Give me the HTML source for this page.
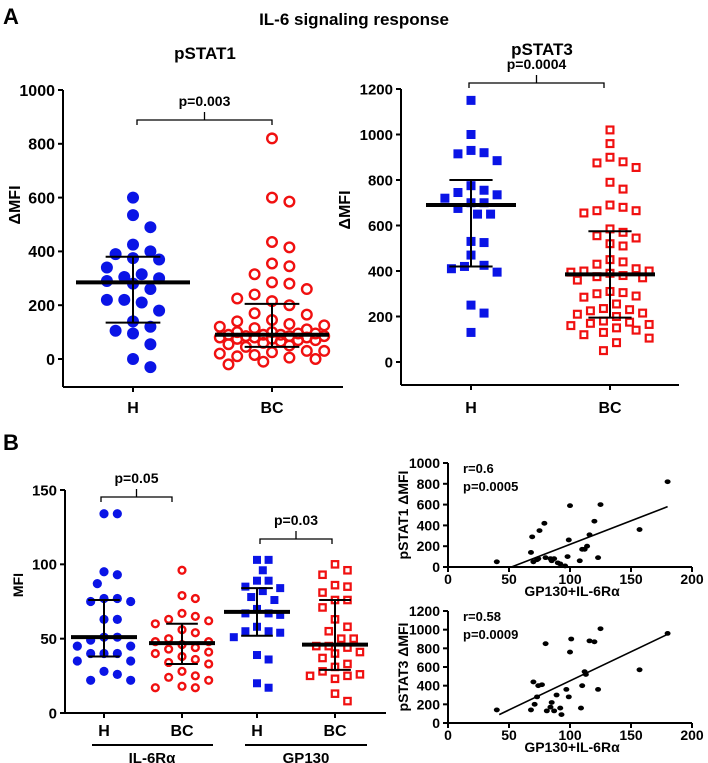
<!DOCTYPE html>
<html><head><meta charset="utf-8">
<style>
html,body{margin:0;padding:0;background:#fff;}
svg{display:block;font-family:"Liberation Sans",Arial,sans-serif;font-weight:bold;}
</style></head>
<body>
<svg id="fig" width="708" height="763" viewBox="0 0 708 763" xmlns="http://www.w3.org/2000/svg">
<text x="3" y="24" font-size="22">A</text>
<text x="354" y="25" font-size="17" text-anchor="middle">IL-6 signaling response</text>
<text x="205" y="59" font-size="17" text-anchor="middle">pSTAT1</text>
<text x="542" y="55" font-size="17" text-anchor="middle">pSTAT3</text>
<text x="3" y="450" font-size="22">B</text>
<g id="root"></g>
</svg>
<script>
// ---- data ----
const pstat1Categories = ["H","BC"];
const pstat1H = [600,535,490,425,390,375,400,340,370,305,290,315,280,300,260,220,210,180,220,140,120,105,95,55,0,-30];
const pstat1BC = [820,585,600,435,415,345,355,315,285,260,280,215,225,240,200,170,165,145,140,130,125,120,115,110,100,100,95,95,90,90,90,85,85,85,80,80,80,75,75,70,70,65,60,55,50,45,30,30,25,20,15,10,5,0,-10,-20];
const pstat1Stats = [[285,380,135],[90,205,45]];
const pstat1Ticks = [0,200,400,600,800,1000];

const pstat3Categories = ["H","BC"];
const pstat3H = [1150,1000,930,915,885,920,775,745,720,735,755,700,700,675,650,650,525,530,470,420,395,410,425,250,215,130];
const pstat3BC = [1020,960,880,855,875,900,790,760,690,665,655,665,680,570,545,585,510,520,555,450,440,430,410,400,400,395,390,380,375,370,360,310,300,290,285,305,255,235,225,210,200,215,230,180,175,170,165,160,150,140,130,120,105,85,50];
const pstat3Stats = [[690,800,420],[385,575,195]];
const pstat3Ticks = [0,200,400,600,800,1000,1200];

const mfiCategories = ["H","BC","H","BC"];
const il6rH = [134,134,95,93,87,77,77,75,75,63,63,51,49,51,45,45,40,40,40,35,35,28,26,22,22];
const il6rBC = [96,79,77,67,63,65,62,60,56,54,50,48,48,46,44,43,41,40,38,36,34,33,28,25,24,22,18,17,17];
const gp130H = [103,103,96,89,89,84,85,82,78,76,70,67,66,67,58,55,55,54,51,39,36,17,20];
const gp130BC = [100,96,93,85,86,81,76,76,71,63,58,55,50,50,45,45,44,41,40,37,33,31,28,25,26,25,23,13,8];
const mfiStats = [[51,76,38],[47,60,33],[68,84,52],[46,76,29]];
const mfiTicks = [0,50,100,150];

const corr1X = [40,68,69,70,73,74,75,79,80,84,85,87,90,92,96,98,99,100,108,110,112,114,116,120,123,125,157,180];
const corr1Y = [50,140,290,50,70,80,350,420,90,80,60,80,40,30,10,100,260,590,60,170,170,200,310,440,90,600,360,820];
const corr1Line = [[52,0],[180,580]];
const corr1YTicks = [0,200,400,600,800,1000];
const corr2X = [40,68,70,71,73,74,77,80,81,84,85,87,89,92,93,97,99,100,101,109,110,112,113,116,120,123,125,157,180];
const corr2Y = [140,140,440,200,280,400,410,850,130,170,220,130,300,160,90,360,280,760,900,160,400,550,520,880,870,360,1010,570,960];
const corr2Line = [[42,90],[180,950]];
const corr2YTicks = [0,200,400,600,800,1000,1200];
const corrXTicks = [0,50,100,150,200];

// ---- helpers ----
const NS="http://www.w3.org/2000/svg";
const root=document.getElementById('root');
function mk(tag,attrs,parent){const e=document.createElementNS(NS,tag);for(const k in attrs)e.setAttribute(k,attrs[k]);(parent||root).appendChild(e);return e;}
function lin(d0,d1,r0,r1){return v=>r0+(v-d0)*(r1-r0)/(d1-d0);}
function swarm(vals,y,sp,W){
  const placed=[];const out=[];
  const idx=vals.map((v,i)=>i).sort((a,b)=>vals[b]-vals[a]);
  const step=sp*0.5;
  idx.forEach(i=>{const py=y(vals[i]);let best=0,bestD=-1,found=false;
    const n=Math.floor(W/step);
    for(let k=0;k<=2*n;k++){const off=(k%2?1:-1)*Math.ceil(k/2)*step;
      let md=Infinity;placed.forEach(p=>{md=Math.min(md,Math.hypot(p[0]-off,p[1]-py));});
      if(md>=sp){best=off;found=true;break;}
      if(md>bestD){bestD=md;best=off;}}
    placed.push([best,py]);out[i]=best;});
  return out;
}
function axisY(x0,yTop,yBot,y,ticks,fs,name){
  const g=mk('g',{});
  
  
  mk('line',{x1:x0,x2:x0,y1:yTop,y2:yBot,stroke:'#000','stroke-width':2},g);
  ticks.forEach(t=>{const yy=y(t);
    mk('line',{x1:x0-5,x2:x0,y1:yy,y2:yy,stroke:'#000','stroke-width':2},g);
    const tx=mk('text',{x:x0-8,y:yy+fs*0.36,'font-size':fs,'text-anchor':'end'},g);tx.textContent=t;
    
    });
}
function marker(shape,cx,cy,s,color,parent){
  let e;
  if(shape==='dot')e=mk('circle',{cx,cy,r:s,fill:color},parent);
  else if(shape==='ring')e=mk('circle',{cx,cy,r:s-1.2,fill:'none',stroke:color,'stroke-width':2.4},parent);
  else if(shape==='sq')e=mk('rect',{x:cx-s,y:cy-s,width:2*s,height:2*s,fill:color},parent);
  else e=mk('rect',{x:cx-s+1.1,y:cy-s+1.1,width:2*s-2.2,height:2*s-2.2,fill:'none',stroke:color,'stroke-width':2.2},parent);
  
  
}
function group(vals,cx,y,shape,s,color,stats,hw,name,W){
  const g=mk('g',{});
  
  
  const offs=swarm(vals,y,s*2*1.45,W);
  vals.forEach((v,i)=>marker(shape,cx+offs[i],y(v),s,color,g));
  const [m,hi,lo]=stats;
  mk('line',{x1:cx-hw,x2:cx+hw,y1:y(m),y2:y(m),stroke:'#000','stroke-width':4},g);
  mk('line',{x1:cx,x2:cx,y1:y(hi),y2:y(lo),stroke:'#000','stroke-width':2},g);
  mk('line',{x1:cx-hw*0.48,x2:cx+hw*0.48,y1:y(hi),y2:y(hi),stroke:'#000','stroke-width':2},g);
  mk('line',{x1:cx-hw*0.48,x2:cx+hw*0.48,y1:y(lo),y2:y(lo),stroke:'#000','stroke-width':2},g);
}
function bracket(x1,x2,yb,label,fs,name){
  const g=mk('g',{});
  
  
  mk('path',{d:`M${x1} ${yb+5}V${yb}H${x2}V${yb+5}M${(x1+x2)/2} ${yb}V${yb-8}`,fill:'none',stroke:'#000','stroke-width':1.3},g);
  const t=mk('text',{x:(x1+x2)/2,y:yb-14,'font-size':fs,'text-anchor':'middle'},g);t.textContent=label;
}
function text(x,y,s,fs,name,anchor,rot){
  const t=mk('text',{x,y,'font-size':fs,'text-anchor':anchor||'middle'});
  if(rot)t.setAttribute('transform',`rotate(-90 ${x} ${y})`);
  t.textContent=s;
  
  
  return t;
}
function xCats(cats,xs,yAxis,x0,x1,labY){
  mk('line',{x1:x0,x2:x1,y1:yAxis,y2:yAxis,stroke:'#000','stroke-width':2});
  cats.forEach((c,i)=>{mk('line',{x1:xs[i],x2:xs[i],y1:yAxis,y2:yAxis+5,stroke:'#000','stroke-width':2});
    text(xs[i],labY,c,16,'x-category-label');});
}

// ---- pSTAT1 ----
{const y=lin(0,1000,359,90);
 axisY(63,90,387,y,pstat1Ticks,16,'pstat1-y-axis');
 xCats(pstat1Categories,[133,272],387,63,343,413);
 text(20,205,'ΔMFI',16,'pstat1-y-axis-title','middle',true);
 group(pstat1H,133,y,'dot',6,'#0a14e6',pstat1Stats[0],57,'pstat1-h-group',30);
 group(pstat1BC,272,y,'ring',6,'#f01010',pstat1Stats[1],57,'pstat1-bc-group',60);
 bracket(137,272,120,'p=0.003',14,'pstat1-significance');}
// ---- pSTAT3 ----
{const y=lin(0,1200,362,89);
 axisY(401,89,385,y,pstat3Ticks,15,'pstat3-y-axis');
 xCats(pstat3Categories,[471,610],385,401,679,413);
 text(350,210,'ΔMFI',16,'pstat3-y-axis-title','middle',true);
 group(pstat3H,471,y,'sq',4.5,'#0a14e6',pstat3Stats[0],45,'pstat3-h-group',35);
 group(pstat3BC,610,y,'osq',4.5,'#f01010',pstat3Stats[1],45,'pstat3-bc-group',45);
 bracket(469,604,83,'p=0.0004',14,'pstat3-significance');}
// ---- MFI ----
{const y=lin(0,150,713,490);
 axisY(65,490,713,y,mfiTicks,15,'mfi-y-axis');
 const xs=[104,182,257,335];
 xCats(mfiCategories,xs,713,65,386,736);
 text(23,585,'MFI',14,'mfi-y-axis-title','middle',true);
 group(il6rH,xs[0],y,'dot',4.6,'#0a14e6',mfiStats[0],33,'il6r-h-group',27);
 group(il6rBC,xs[1],y,'ring',4.6,'#f01010',mfiStats[1],33,'il6r-bc-group',30);
 group(gp130H,xs[2],y,'sq',4,'#0a14e6',mfiStats[2],33,'gp130-h-group',28);
 group(gp130BC,xs[3],y,'osq',4.3,'#f01010',mfiStats[3],33,'gp130-bc-group',30);
 bracket(101,172,497,'p=0.05',14,'il6r-significance');
 bracket(260,332,539,'p=0.03',14,'gp130-significance');
 mk('line',{x1:92,x2:213,y1:745,y2:745,stroke:'#000','stroke-width':2});
 mk('line',{x1:245,x2:367,y1:745,y2:745,stroke:'#000','stroke-width':2});
 text(152,763,'IL-6Rα',15,'il6r-group-label');
 text(306,763,'GP130',15,'gp130-group-label');}
// ---- correlations ----
function corr(xsD,ysD,line,yTicks,yMax,yTop,yBot,r,p,ylab,name){
  const x=lin(0,200,448,692), y=lin(0,yMax,yBot,yTop);
  axisY(448,yTop,yBot,y,yTicks,14,name+'-y-axis');
  mk('line',{x1:448,x2:692,y1:yBot,y2:yBot,stroke:'#000','stroke-width':2});
  corrXTicks.forEach(t=>{mk('line',{x1:x(t),x2:x(t),y1:yBot,y2:yBot+5,stroke:'#000','stroke-width':2});
    text(x(t),yBot+17,String(t),14,'x-tick-label');});
  text(572,yBot+29,'GP130+IL-6Rα',14,name+'-x-axis-title');
  text(408,(yTop+yBot)/2,ylab,14,name+'-y-axis-title','middle',true);
  text(463,yTop+10,r,13,name+'-r-value','start');
  text(463,yTop+28,p,13,name+'-p-value','start');
  const g=mk('g',{});
  
  
  xsD.forEach((v,i)=>{const e=mk('ellipse',{cx:x(v),cy:y(ysD[i]),rx:3,ry:2.4,fill:'#000'},g);
    
    });
  const l=mk('line',{x1:x(line[0][0]),y1:y(line[0][1]),x2:x(line[1][0]),y2:y(line[1][1]),stroke:'#000','stroke-width':1.6});
  
  
}
corr(corr1X,corr1Y,corr1Line,corr1YTicks,1000,463,567,'r=0.6','p=0.0005','pSTAT1 ΔMFI','corr-pstat1');
corr(corr2X,corr2Y,corr2Line,corr2YTicks,1200,611,723,'r=0.58','p=0.0009','pSTAT3 ΔMFI','corr-pstat3');
</script>
</body></html>
